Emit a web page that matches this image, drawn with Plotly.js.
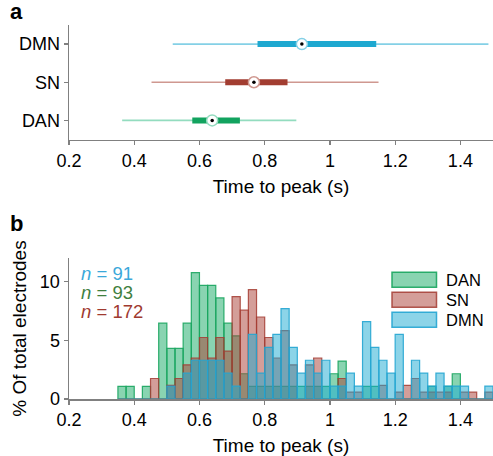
<!DOCTYPE html>
<html><head><meta charset="utf-8">
<script src="https://cdn.plot.ly/plotly-3.0.1.min.js"></script>
<style>html,body{margin:0;padding:0;background:#fff}#chart{width:493px;height:456px}</style>
</head><body><div id="chart"></div>
<script>
// ---------- Panel a: time-to-peak summaries ----------
const groups = ['DAN', 'SN', 'DMN'];
const whiskerLow = [0.363, 0.453, 0.518];
const whiskerHigh = [0.897, 1.149, 1.486];
const q1 = [0.578, 0.679, 0.778];
const q3 = [0.724, 0.870, 1.142];
const medians = [0.639, 0.767, 0.914];

// ---------- Panel b: histograms (counts per 0.025 s bin) ----------
const binStarts = [0.350,0.375,0.400,0.425,0.450,0.475,0.500,0.525,0.550,0.575,
                   0.600,0.625,0.650,0.675,0.700,0.725,0.750,0.775,0.800,0.825,
                   0.850,0.875,0.900,0.925,0.950,0.975,1.000,1.025,1.050,1.075,
                   1.100,1.125,1.150,1.175,1.200,1.225,1.250,1.275,1.300,1.325,
                   1.350,1.375,1.400,1.425,1.450,1.475];
const binWidth = 0.025;
const danCounts = [1,1,0,1,0,6,4,4,6,10, 9,9,8,6,5,2,1,1,1,1, 1,1,1,1,1,1,2,3,0,0, 1,1,0,0,0,0,0,0,1,0, 1,2,0,0,0,0];
const snCounts  = [0,0,0,0,3,0,2,3,5,6, 9,6,9,7,15,13,16,12,9,6, 10,5,0,5,6,0,0,3,1,1, 0,0,2,0,1,2,3,1,1,1, 1,0,1,1,0,1];
const dmnCounts = [0,0,0,0,0,0,1,0,2,3, 3,3,3,2,1,0,5,2,4,5, 7,4,2,3,2,3,1,1,2,1, 6,4,3,2,5,0,3,2,1,2, 1,1,1,0,0,1];
const nDAN = 93, nSN = 172, nDMN = 91;
const nLabels = ['91', '93', '172'];

const whiskerColors = ['#93dcbf', '#cf9890', '#84d0e6'];
const boxColors = ['#12a35f', '#a23d31', '#1ea8d0'];

const traces = [];
groups.forEach((g, i) => {
  traces.push({x:[whiskerLow[i], whiskerHigh[i]], y:[i, i], xaxis:'x', yaxis:'y', mode:'lines',
    line:{color:whiskerColors[i], width:1.6}, hoverinfo:'skip', showlegend:false});
});
groups.forEach((g, i) => {
  traces.push({x:[q1[i], q3[i]], y:[i, i], xaxis:'x', yaxis:'y', mode:'lines',
    line:{color:boxColors[i], width:6}, hoverinfo:'skip', showlegend:false});
});
traces.push({x:medians, y:[0,1,2], xaxis:'x', yaxis:'y', mode:'markers',
  marker:{symbol:'circle', size:11, color:'#ffffff', line:{color:whiskerColors, width:1.5}},
  hoverinfo:'skip', showlegend:false});
traces.push({x:medians, y:[0,1,2], xaxis:'x', yaxis:'y', mode:'markers',
  marker:{symbol:'circle', size:3.5, color:'#000000'}, hoverinfo:'skip', showlegend:false});

function pct(counts, n){ return counts.map(c => c / n * 100); }
const histSpecs = [
  {name:'DAN', counts:danCounts, n:nDAN, fill:'rgba(20,170,100,0.5)', edge:'rgba(25,165,95,0.9)'},
  {name:'SN',  counts:snCounts,  n:nSN,  fill:'rgba(170,62,52,0.5)',  edge:'rgba(165,60,50,0.85)'},
  {name:'DMN', counts:dmnCounts, n:nDMN, fill:'rgba(25,170,210,0.5)', edge:'rgba(35,165,210,0.9)'}
];
histSpecs.forEach(s => {
  traces.push({type:'bar', x:binStarts, y:pct(s.counts, s.n), offset:0, width:binWidth,
    xaxis:'x2', yaxis:'y2', name:s.name,
    marker:{color:s.fill, line:{color:s.edge, width:1.2}},
    hoverinfo:'skip', showlegend:false});
});

const W = 493, H = 456;
const px = v => v / W;
const py = v => 1 - v / H;
const FAM = 'Liberation Sans, Arial, sans-serif';
const axisFont = {family:FAM, size:18, color:'#000'};
const titleFont = {family:FAM, size:19, color:'#000'};

const commonX = {range:[0.2, 1.5], tick0:0.2, dtick:0.2, showline:true, linecolor:'#808080', linewidth:1.5,
  ticks:'outside', ticklen:4, tickcolor:'#808080', tickwidth:1.2, showgrid:false, zeroline:false,
  tickfont:axisFont, fixedrange:true};

const annotations = [
  {text:'<b>a</b>', x:px(8), y:py(11), xref:'paper', yref:'paper', xanchor:'left', yanchor:'middle', showarrow:false,
   font:{family:FAM, size:22, color:'#000'}},
  {text:'<b>b</b>', x:px(8), y:py(223), xref:'paper', yref:'paper', xanchor:'left', yanchor:'middle', showarrow:false,
   font:{family:FAM, size:22, color:'#000'}}
];
const nColors = ['#3aa8da', '#3f7f3f', '#a03a30'];
const nY = [273, 292, 311];
nLabels.forEach((t, i) => {
  annotations.push({text:'<i>n</i> = ' + t, x:px(79), y:py(nY[i]), xref:'paper', yref:'paper',
    xanchor:'left', yanchor:'middle', showarrow:false,
    font:{family:FAM, size:18.5, color:nColors[i]}});
});
const legY = [272.3, 292.3, 312.3];
const shapes = [];
histSpecs.forEach((s, i) => {
  shapes.push({type:'rect', xref:'paper', yref:'paper', x0:px(392), x1:px(436.5), y0:py(legY[i]), y1:py(legY[i]+15),
    fillcolor:s.fill, line:{color:s.edge, width:1.5}});
  annotations.push({text:s.name, x:px(444), y:py(legY[i]+7.5), xref:'paper', yref:'paper',
    xanchor:'left', yanchor:'middle', showarrow:false,
    font:{family:FAM, size:16.5, color:'#000'}});
});

const layout = {
  width:W, height:H, margin:{l:0, r:0, t:0, b:0}, paper_bgcolor:'#fff', plot_bgcolor:'#fff',
  showlegend:false, barmode:'overlay', bargap:0,
  xaxis:Object.assign({}, commonX, {domain:[px(69), 1], anchor:'y',
    title:{text:'Time to peak (s)', font:titleFont, standoff:10}}),
  yaxis:{domain:[py(139.5), py(25)], anchor:'x', range:[-0.5, 2.5], tickvals:[0,1,2], ticktext:groups,
    showline:true, linecolor:'#808080', linewidth:1.5, ticks:'outside', ticklen:4, tickcolor:'#808080', tickwidth:1.2,
    showgrid:false, zeroline:false, tickfont:axisFont, fixedrange:true},
  xaxis2:Object.assign({}, commonX, {domain:[px(69), 1], anchor:'y2',
    title:{text:'Time to peak (s)', font:titleFont, standoff:11}}),
  yaxis2:{domain:[py(399), py(258)], anchor:'x2', range:[0, 12], tickvals:[0,5,10],
    showline:true, linecolor:'#808080', linewidth:1.5, ticks:'outside', ticklen:4, tickcolor:'#808080', tickwidth:1.2,
    showgrid:false, zeroline:false, tickfont:axisFont, fixedrange:true,
    title:{text:'% Of total electrodes', font:titleFont, standoff:8}},
  annotations:annotations, shapes:shapes
};

Plotly.newPlot('chart', traces, layout, {staticPlot:true, displayModeBar:false});
</script></body></html>
